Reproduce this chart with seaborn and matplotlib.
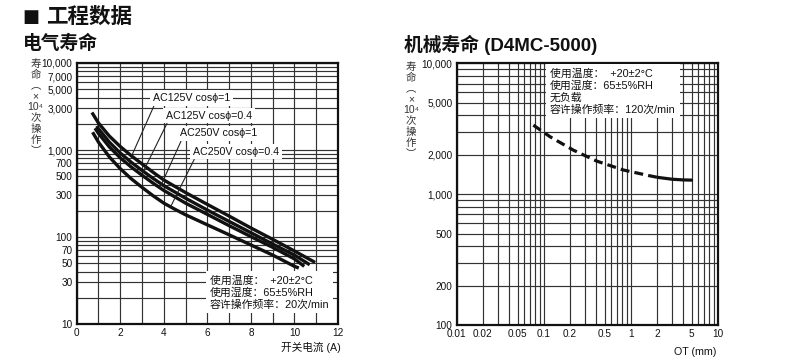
import numpy as np
import pandas as pd
import matplotlib
matplotlib.use("Agg")
import matplotlib.pyplot as plt
import seaborn as sns
from matplotlib.ticker import FixedLocator, FixedFormatter, MultipleLocator, NullFormatter

# ---------------- data ----------------
# Electrical life curves (switching current A -> life x10^4 operations)
a125_1_x = [0.70, 1.0, 1.5, 2.0, 2.5, 3.0, 3.5, 4.0, 5.0, 6.0, 7.0, 8.0, 9.0, 10.0, 10.95]
a125_1_y = [2700, 2040, 1445, 1096, 861, 692, 556, 452, 324, 237, 174, 127, 94, 69, 51]
a125_04_x = [0.92, 1.0, 1.5, 2.0, 2.5, 3.0, 3.5, 4.0, 5.0, 6.0, 7.0, 8.0, 9.0, 10.0, 10.7]
a125_04_y = [1890, 1758, 1230, 923, 724, 582, 473, 389, 279, 204, 151, 112, 83, 62, 48]
a250_1_x = [0.84, 1.0, 1.5, 2.0, 2.5, 3.0, 3.5, 4.0, 5.0, 6.0, 7.0, 8.0, 9.0, 10.0, 10.45]
a250_1_y = [1780, 1550, 1084, 813, 638, 513, 417, 343, 245, 182, 135, 101, 76, 56, 46]
a250_04_x = [0.73, 1.0, 1.5, 2.0, 2.5, 3.0, 3.5, 4.0, 4.5, 5.0, 6.0, 7.0, 8.0, 9.0, 10.0, 10.2]
a250_04_y = [1600, 1230, 832, 610, 468, 372, 299, 245, 209, 180, 138, 106, 81, 62, 46, 44]
series_names = ["AC125V cosϕ=1", "AC125V cosϕ=0.4", "AC250V cosϕ=1", "AC250V cosϕ=0.4"]

# Mechanical life (OT mm -> life x10^4 operations)
mech_dash_x = [0.076, 0.118, 0.219, 0.406, 0.822, 1.667, 2.05]
mech_dash_y = [3370, 2750, 2170, 1790, 1530, 1380, 1343]
mech_solid_x = [2.05, 3.0, 4.0, 5.0]
mech_solid_y = [1343, 1300, 1285, 1280]

# tick labels
left_yticks = [10, 30, 50, 70, 100, 300, 500, 700, 1000, 3000, 5000, 7000, 10000]
left_xticks = [0, 2, 4, 6, 8, 10, 12]
right_yticks = [100, 200, 500, 1000, 2000, 5000, 10000]
right_xticks = [0.01, 0.02, 0.05, 0.1, 0.2, 0.5, 1, 2, 5, 10]
right_xlabels = ["0.01", "0.02", "0.05", "0.1", "0.2", "0.5", "1", "2", "5", "10"]

info_left = "使用温度：  +20±2°C\n使用湿度：65±5%RH\n容许操作频率：20次/min"
info_right = "使用温度：  +20±2°C\n使用湿度：65±5%RH\n无负载\n容许操作频率：120次/min"
ylab = "寿\n命\n︵\n×\n10⁴\n次\n操\n作\n︶"

# ---------------- style ----------------
sns.set_theme(style="white")
plt.rcParams["font.family"] = ["Liberation Sans", "Noto Sans CJK SC"]
plt.rcParams["axes.unicode_minus"] = False

W, H = 800, 362
fig = plt.figure(figsize=(8, 3.62), dpi=100)
fig.patch.set_facecolor("white")

def fx(px):
    return px / W

def fy(py):
    return 1 - py / H

ax1 = fig.add_axes([fx(76.7), fy(324), (338 - 76.7) / W, (324 - 63) / H])
ax2 = fig.add_axes([fx(456.7), fy(325), (717.7 - 456.7) / W, (325 - 63.3) / H])

GRID = "#333333"
LINE = "#111111"

def comma(v):
    return f"{int(v):,}"

def decade_grid(lo, hi):
    vals = []
    d = lo
    while d < hi:
        for m in range(1, 10):
            vals.append(m * d)
        d *= 10
    vals.append(hi)
    return vals

# ---------- left chart ----------
frames = []
for name, xs, ys in zip(series_names,
                        [a125_1_x, a125_04_x, a250_1_x, a250_04_x],
                        [a125_1_y, a125_04_y, a250_1_y, a250_04_y]):
    frames.append(pd.DataFrame({"I": xs, "life": ys, "series": name}))
df_el = pd.concat(frames, ignore_index=True)

ax1.set_yscale("log")
sns.lineplot(data=df_el, x="I", y="life", hue="series", units="series", estimator=None,
             palette={n: LINE for n in series_names}, linewidth=2.4, legend=False,
             ax=ax1, zorder=5, solid_capstyle="butt", solid_joinstyle="round")
ax1.set_xlim(0, 12)
ax1.set_ylim(10, 10000)
ax1.xaxis.set_major_locator(FixedLocator(left_xticks))
ax1.xaxis.set_major_formatter(FixedFormatter([str(t) for t in left_xticks]))
ax1.xaxis.set_minor_locator(MultipleLocator(1))
ax1.yaxis.set_major_locator(FixedLocator(left_yticks))
ax1.yaxis.set_major_formatter(FixedFormatter([comma(t) for t in left_yticks]))
ax1.yaxis.set_minor_locator(FixedLocator([v for v in decade_grid(10, 10000) if v not in left_yticks]))
ax1.yaxis.set_minor_formatter(NullFormatter())
ax1.set_xlabel("")
ax1.set_ylabel("")

# annotations (leader lines from labels to curves)
ann = [
    (series_names[0], (2.52, 853), (3.50, 3960)),
    (series_names[1], (3.06, 568), (4.09, 2480)),
    (series_names[2], (3.82, 368), (4.74, 1550)),
    (series_names[3], (4.31, 222), (5.34, 955)),
]
for txt, xy, xyt in ann:
    ax1.annotate(txt, xy=xy, xytext=xyt, textcoords="data", ha="left", va="center",
                 fontsize=7.7, color="#111",
                 bbox=dict(boxstyle="square,pad=0.25", fc="white", ec="none"),
                 arrowprops=dict(arrowstyle="-", color="#222", lw=0.8,
                                 shrinkA=0, shrinkB=0, relpos=(0.03, 0.0)),
                 zorder=6)

ax1.text((210 - 76.7) / (338 - 76.7), (324 - 275) / (324 - 63), info_left,
         transform=ax1.transAxes, ha="left", va="top", fontsize=7.8, color="#111",
         linespacing=1.2,
         bbox=dict(boxstyle="square,pad=0.35", fc="white", ec="none"), zorder=4)

# ---------- right chart ----------
ax2.set_xscale("log")
ax2.set_yscale("log")
sns.lineplot(x=mech_dash_x, y=mech_dash_y, ax=ax2, color=LINE, linewidth=2.3,
             linestyle=(0, (2.8, 1.6)), zorder=5, dash_capstyle="butt")
sns.lineplot(x=mech_solid_x, y=mech_solid_y, ax=ax2, color=LINE, linewidth=2.3, zorder=5)
ax2.set_xlim(0.01, 10)
ax2.set_ylim(100, 10000)
ax2.xaxis.set_major_locator(FixedLocator(right_xticks))
ax2.xaxis.set_major_formatter(FixedFormatter(right_xlabels))
ax2.xaxis.set_minor_locator(FixedLocator([v for v in decade_grid(0.01, 10)
                                          if not any(abs(v - t) < 1e-9 for t in right_xticks)]))
ax2.xaxis.set_minor_formatter(NullFormatter())
ax2.yaxis.set_major_locator(FixedLocator(right_yticks))
ax2.yaxis.set_major_formatter(FixedFormatter([comma(t) for t in right_yticks]))
ax2.yaxis.set_minor_locator(FixedLocator([v for v in decade_grid(100, 10000) if v not in right_yticks]))
ax2.yaxis.set_minor_formatter(NullFormatter())
ax2.set_xlabel("")
ax2.set_ylabel("")

ax2.text((550 - 456.7) / (717.7 - 456.7), (325 - 68) / (325 - 63.3), info_right,
         transform=ax2.transAxes, ha="left", va="top", fontsize=7.8, color="#111",
         linespacing=1.2,
         bbox=dict(boxstyle="square,pad=0.35", fc="white", ec="none"), zorder=4)

for ax in (ax1, ax2):
    ax.set_axisbelow(True)
    ax.grid(True, which="both", color=GRID, linewidth=0.85)
    ax.tick_params(which="both", length=0, pad=3, labelsize=7.2, colors="#111")
    for s in ax.spines.values():
        s.set_color("#111")
        s.set_linewidth(1.6)
        s.set_visible(True)

# ---------- titles & labels ----------
fig.text(fx(22), fy(17.5), "■", fontsize=13, va="center", ha="left", color="#111",
         family=["DejaVu Sans"])
fig.text(fx(46.5), fy(17), "工程数据", fontsize=15.5, fontweight="bold", va="center", ha="left", color="#111")
fig.text(fx(23), fy(44), "电气寿命", fontsize=13.5, fontweight="bold", va="center", ha="left", color="#111")
fig.text(fx(404), fy(45), "机械寿命 (D4MC-5000)", fontsize=13.5, fontweight="bold", va="center", ha="left", color="#111")
fig.text(fx(35.5), fy(59), ylab, fontsize=7.5, va="top", ha="center", linespacing=1.1, color="#333")
fig.text(fx(411), fy(62), ylab, fontsize=7.5, va="top", ha="center", linespacing=1.1, color="#333")
fig.text(fx(341), fy(347), "开关电流 (A)", fontsize=7.7, ha="right", va="center", color="#111")
fig.text(fx(716), fy(352), "OT (mm)", fontsize=7.7, ha="right", va="center", color="#111")

fig.savefig("out.png", dpi=100, facecolor="white")
